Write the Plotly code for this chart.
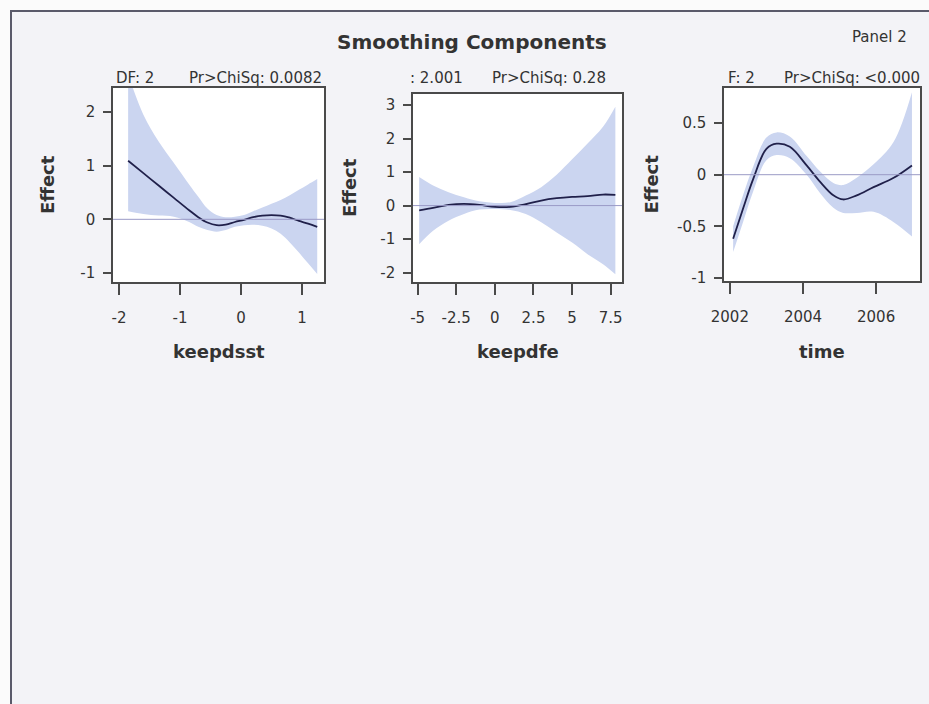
import plotly.graph_objects as go

# ---------------- data ----------------
# Panel 1: keepdsst
keepdsst_x = [-1.85, -1.6, -1.35, -1.1, -0.85, -0.7, -0.55, -0.4, -0.25, -0.1,
              0.05, 0.2, 0.35, 0.5, 0.65, 0.8, 0.95, 1.1, 1.25]
keepdsst_fit = [1.09, 0.86, 0.63, 0.40, 0.17, 0.04, -0.06, -0.11, -0.10, -0.05,
                -0.01, 0.04, 0.07, 0.08, 0.07, 0.03, -0.03, -0.08, -0.14]
keepdsst_upper = [2.70, 1.95, 1.45, 1.05, 0.65, 0.42, 0.20, 0.08, 0.04, 0.05,
                  0.08, 0.15, 0.22, 0.29, 0.36, 0.45, 0.55, 0.65, 0.75]
keepdsst_lower = [0.15, 0.10, 0.07, 0.05, -0.05, -0.14, -0.20, -0.23, -0.20, -0.14,
                  -0.11, -0.10, -0.12, -0.17, -0.27, -0.43, -0.62, -0.82, -1.02]

# Panel 2: keepdfe
keepdfe_x = [-4.9, -4.0, -3.0, -2.0, -1.0, 0.0, 1.0, 2.0, 3.0, 4.0, 5.0, 6.0, 7.0, 7.8]
keepdfe_fit = [-0.14, -0.07, 0.02, 0.05, 0.02, -0.04, -0.04, 0.04, 0.15, 0.22,
               0.26, 0.28, 0.33, 0.32]
keepdfe_upper = [0.85, 0.60, 0.40, 0.25, 0.13, 0.08, 0.10, 0.30, 0.55, 0.92,
                 1.38, 1.85, 2.35, 2.95]
keepdfe_lower = [-1.15, -0.75, -0.45, -0.25, -0.12, -0.10, -0.13, -0.25, -0.50,
                 -0.80, -1.10, -1.45, -1.75, -2.05]

# Panel 3: time
time_x = [2002.09, 2002.36, 2002.64, 2003.0, 2003.28, 2003.64, 2004.1, 2004.47,
          2004.83, 2005.1, 2005.47, 2005.93, 2006.48, 2006.98]
time_fit = [-0.62, -0.33, -0.04, 0.25, 0.30, 0.27, 0.09, -0.07, -0.20, -0.24,
            -0.20, -0.12, -0.03, 0.09]
time_upper = [-0.50, -0.20, 0.08, 0.36, 0.41, 0.37, 0.18, 0.03, -0.08, -0.10,
              -0.03, 0.10, 0.32, 0.80]
time_lower = [-0.75, -0.46, -0.16, 0.14, 0.19, 0.16, 0.00, -0.18, -0.32, -0.37,
              -0.37, -0.36, -0.46, -0.60]

# ticks
p1_xticks = [-2, -1, 0, 1]
p1_xlabels = ["-2", "-1", "0", "1"]
p1_yticks = [-1, 0, 1, 2]
p1_ylabels = ["-1", "0", "1", "2"]
p2_xticks = [-5, -2.5, 0, 2.5, 5, 7.5]
p2_xlabels = ["-5", "-2.5", "0", "2.5", "5", "7.5"]
p2_yticks = [-2, -1, 0, 1, 2, 3]
p2_ylabels = ["-2", "-1", "0", "1", "2", "3"]
p3_xticks = [2002, 2004, 2006]
p3_xlabels = ["2002", "2004", "2006"]
p3_yticks = [-1, -0.5, 0, 0.5]
p3_ylabels = ["-1", "-0.5", "0", "0.5"]

x_titles = ["keepdsst", "keepdfe", "time"]
df_texts = ["DF: 2", ": 2.001", "F: 2"]
p_texts = ["Pr>ChiSq: 0.0082", "Pr>ChiSq: 0.28", "Pr>ChiSq: <0.000"]

# ---------------- layout helpers ----------------
W, H = 929, 704


def px(x):
    return x / W


def py(y):
    return 1 - y / H


FONT = "DejaVu Sans, Verdana, sans-serif"
TXT = "#333333"
FRAME = "#4a4a4a"
BAND = "#cbd5f0"
LINE = "#20204a"
ZERO = "#9a9ac6"

panels = [
    dict(x=keepdsst_x, fit=keepdsst_fit, up=keepdsst_upper, lo=keepdsst_lower,
         box=(113, 324, 88, 282), xr=[-2.098, 1.361], yr=[-1.168, 2.447],
         xt=p1_xticks, xl=p1_xlabels, yt=p1_yticks, yl=p1_ylabels,
         ytitle_x=48, dfx=114, px_=187),
    dict(x=keepdfe_x, fit=keepdfe_fit, up=keepdfe_upper, lo=keepdfe_lower,
         box=(413, 622, 94, 282), xr=[-5.30, 8.23], yr=[-2.28, 3.33],
         xt=p2_xticks, xl=p2_xlabels, yt=p2_yticks, yl=p2_ylabels,
         ytitle_x=349, dfx=408, px_=490),
    dict(x=time_x, fit=time_fit, up=time_upper, lo=time_lower,
         box=(724, 920, 88, 281), xr=[2001.84, 2007.2], yr=[-1.03, 0.84],
         xt=p3_xticks, xl=p3_xlabels, yt=p3_yticks, yl=p3_ylabels,
         ytitle_x=651, dfx=726, px_=782),
]

fig = go.Figure()
layout = dict(
    width=W, height=H,
    margin=dict(l=0, r=0, t=0, b=0, autoexpand=False),
    paper_bgcolor="#f3f3f7",
    plot_bgcolor="#ffffff",
    showlegend=False,
    font=dict(family=FONT, color=TXT, size=15),
)
annotations = []
shapes = []

for i, p in enumerate(panels):
    n = "" if i == 0 else str(i + 1)
    xa, ya = "x" + n, "y" + n
    # confidence band
    fig.add_trace(go.Scatter(x=p["x"], y=p["lo"], xaxis=xa, yaxis=ya, mode="lines",
                             line=dict(width=0, color=BAND, shape="spline"),
                             hoverinfo="skip"))
    fig.add_trace(go.Scatter(x=p["x"], y=p["up"], xaxis=xa, yaxis=ya, mode="lines",
                             line=dict(width=0, color=BAND, shape="spline"),
                             fill="tonexty", fillcolor=BAND, hoverinfo="skip"))
    # fitted curve
    fig.add_trace(go.Scatter(x=p["x"], y=p["fit"], xaxis=xa, yaxis=ya, mode="lines",
                             line=dict(width=1.8, color=LINE, shape="spline")))
    x0, x1, y0, y1 = p["box"]
    axis_common = dict(showline=True, mirror=True, linecolor=FRAME, linewidth=1.5,
                       ticks="outside", tickcolor=FRAME, tickwidth=1.5,
                       showgrid=False, zeroline=False, automargin=False,
                       tickfont=dict(family=FONT, size=15, color=TXT))
    layout["xaxis" + n] = dict(axis_common, domain=[px(x0), px(x1)], range=p["xr"],
                               anchor=ya, tickmode="array", tickvals=p["xt"],
                               ticktext=p["xl"], ticklen=11, ticklabelstandoff=10)
    layout["yaxis" + n] = dict(axis_common, domain=[py(y1), py(y0)], range=p["yr"],
                               anchor=xa, tickmode="array", tickvals=p["yt"],
                               ticktext=p["yl"], ticklen=8, ticklabelstandoff=5)
    # zero reference line
    shapes.append(dict(type="line", xref=xa + " domain", x0=0, x1=1,
                       yref=ya, y0=0, y1=0, line=dict(color=ZERO, width=1),
                       layer="above"))
    # axis titles
    annotations.append(dict(text="<b>Effect</b>", textangle=-90, showarrow=False,
                            xref="paper", yref="paper", x=px(p["ytitle_x"]),
                            y=py((y0 + y1) / 2), xanchor="center", yanchor="middle",
                            font=dict(family=FONT, size=18, color=TXT)))
    annotations.append(dict(text="<b>%s</b>" % x_titles[i], showarrow=False,
                            xref="paper", yref="paper", x=px((x0 + x1) / 2),
                            y=py(351), xanchor="center", yanchor="middle",
                            font=dict(family=FONT, size=18, color=TXT)))
    # statistics above panel
    annotations.append(dict(text=df_texts[i], showarrow=False, xref="paper",
                            yref="paper", x=px(p["dfx"]), y=py(78), xanchor="left",
                            yanchor="middle", font=dict(family=FONT, size=15, color=TXT)))
    annotations.append(dict(text=p_texts[i], showarrow=False, xref="paper",
                            yref="paper", x=px(p["px_"]), y=py(78), xanchor="left",
                            yanchor="middle", font=dict(family=FONT, size=15, color=TXT)))

annotations.append(dict(text="<b>Smoothing Components</b>", showarrow=False,
                        xref="paper", yref="paper", x=px(472), y=py(42),
                        xanchor="center", yanchor="middle",
                        font=dict(family=FONT, size=20, color=TXT)))
annotations.append(dict(text="Panel 2", showarrow=False, xref="paper", yref="paper",
                        x=px(850), y=py(37), xanchor="left", yanchor="middle",
                        font=dict(family=FONT, size=15, color=TXT)))

# outer frame: white margin strips + border lines
shapes.append(dict(type="rect", xref="paper", yref="paper", x0=0, x1=px(10),
                   y0=0, y1=1, fillcolor="#fbfbfb", line=dict(width=0), layer="below"))
shapes.append(dict(type="rect", xref="paper", yref="paper", x0=0, x1=1,
                   y0=py(10), y1=1, fillcolor="#fbfbfb", line=dict(width=0), layer="below"))
shapes.append(dict(type="line", xref="paper", yref="paper", x0=px(11), x1=px(11),
                   y0=0, y1=py(10), line=dict(color="#5a5a6a", width=2)))
shapes.append(dict(type="line", xref="paper", yref="paper", x0=px(10), x1=1,
                   y0=py(11), y1=py(11), line=dict(color="#5a5a6a", width=2)))

layout["annotations"] = annotations
layout["shapes"] = shapes
fig.update_layout(**layout)
fig.write_html("out.html")
